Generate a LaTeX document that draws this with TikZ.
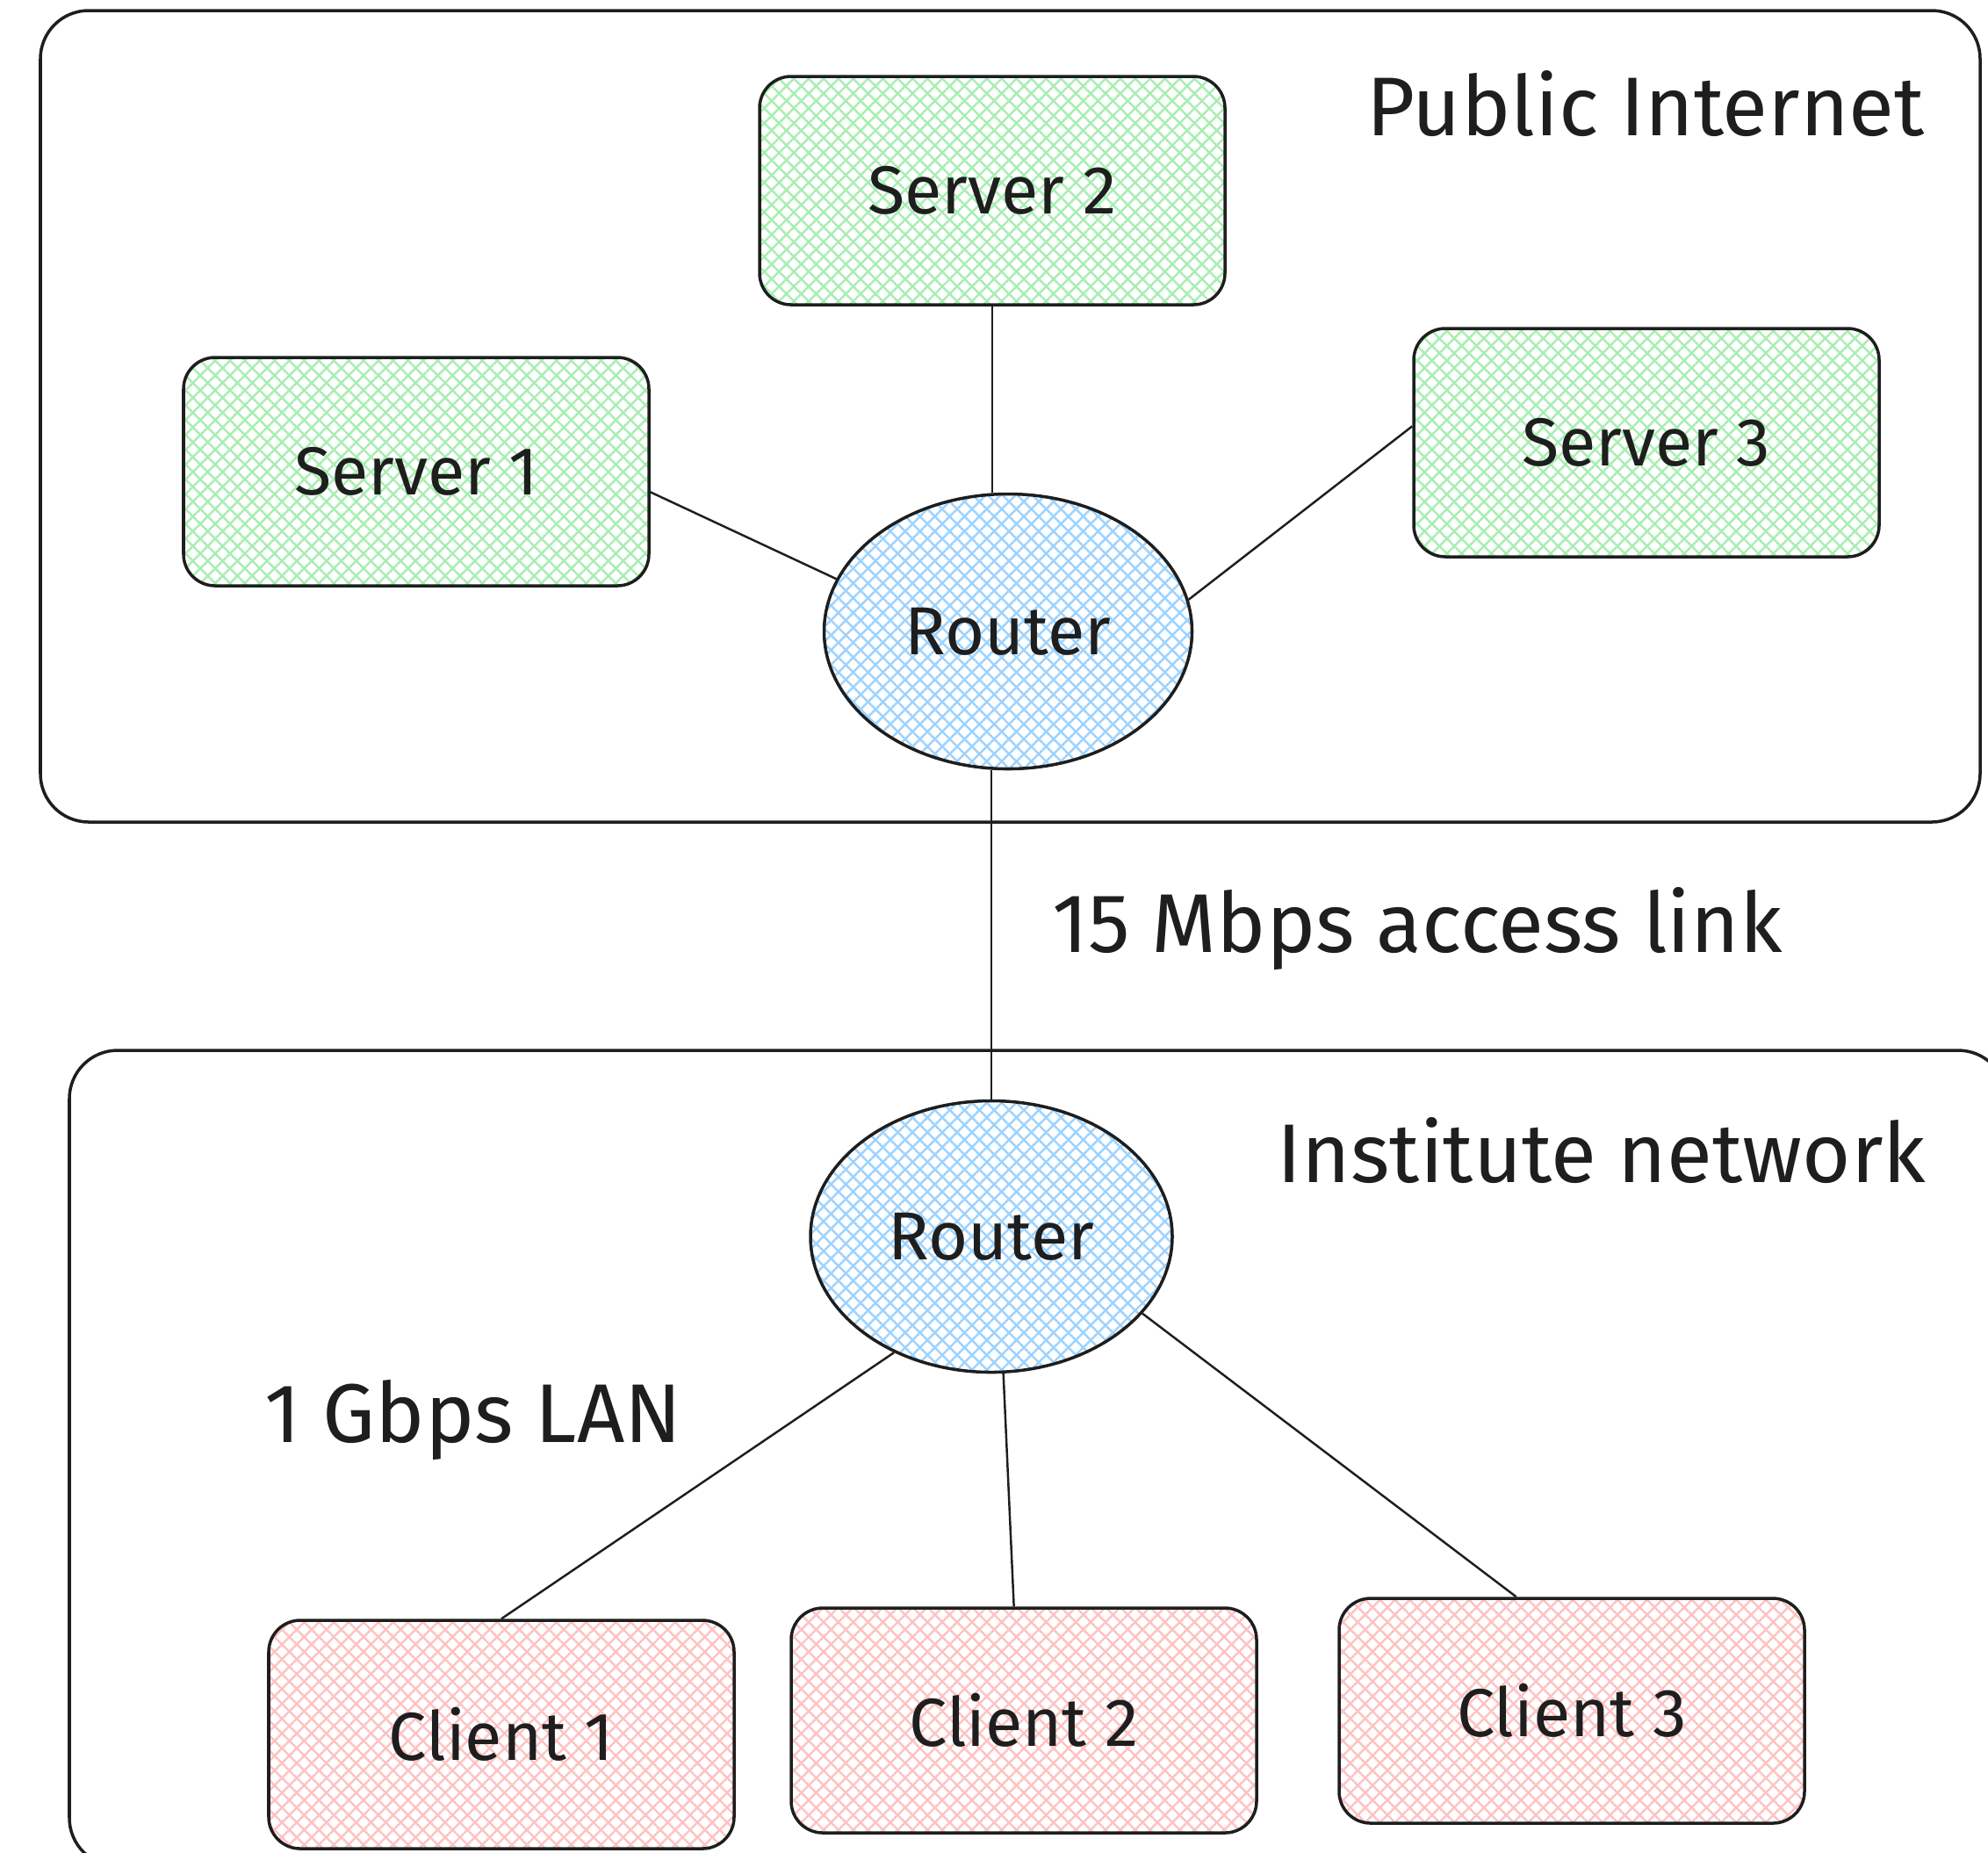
\documentclass[tikz,border=0pt]{standalone}
\usepackage{fontspec}
\setmainfont{Fira Sans}
\usepackage{tikz}
\usetikzlibrary{shapes.geometric, patterns.meta, positioning}
\definecolor{ink}{HTML}{1E1E1E}
\definecolor{srvgreen}{HTML}{A8EEB2}
\definecolor{rtrblue}{HTML}{9DD3FF}
\definecolor{clired}{HTML}{FFC2C2}
\tikzset{
    hatch/.style={preaction={pattern={Lines[angle=45,distance=3.4pt,line width=0.7pt]}, pattern color=#1},
                  pattern={Lines[angle=-45,distance=3.4pt,line width=0.7pt]}, pattern color=#1},
    box/.style={draw=ink, line width=1pt, rounded corners=0.36cm, minimum width=5.3cm,
                minimum height=2.6cm, text=ink, font=\fontsize{22}{26}\selectfont},
    srv/.style={box, hatch=srvgreen},
    cli/.style={box, hatch=clired},
    rtr/.style={ellipse, draw=ink, line width=1pt, hatch=rtrblue, minimum width=4.15cm,
                minimum height=3.1cm, inner sep=0pt, text=ink, font=\fontsize{22}{26}\selectfont},
    zone/.style={draw=ink, line width=1pt, rounded corners=0.55cm},
    lnk/.style={draw=ink, line width=0.7pt},
    lab/.style={text=ink, font=\fontsize{27}{32}\selectfont},
}

\begin{document}
\begin{tikzpicture}
    \useasboundingbox (0,0) rectangle (22.64,-21.09);
    % the two networks
    \draw[zone] (0.46,-0.12) rectangle (22.55,-9.36);
    \draw[zone] (0.79,-11.96) rectangle (22.85,-21.25);
    \node[lab] (pub) at (18.74,-1.18) {Public Internet};
    \node[lab] (inst) at (18.24,-13.10) {Institute network};
    \node[lab] (acc) at (16.14,-10.58) {15 Mbps access link};
    \node[lab] (lan) at (5.39,-16.17) {1 Gbps LAN};

    % public side
    \node[srv] (s2) at (11.30,-2.17) {Server 2};
    \node[srv] (s1) at (4.74,-5.37) {Server 1};
    \node[srv] (s3) at (18.75,-5.04) {Server 3};
    \node[rtr, minimum width=4.19cm, minimum height=3.13cm] (r1) at (11.48,-7.19) {Router};

    % institute side
    \node[rtr, minimum width=4.12cm, minimum height=3.09cm] (r2) at (11.29,-14.08) {Router};
    \node[cli] (c1) at (5.71,-19.75) {Client 1};
    \node[cli, minimum height=2.56cm] (c2) at (11.66,-19.59) {Client 2};
    \node[cli, minimum height=2.56cm] (c3) at (17.90,-19.48) {Client 3};

    \draw[lnk] (s2.south) -- (s2.south |- r1.north);
    \draw[lnk] (s1.-5) -- (r1.163);
    \draw[lnk] (s3.176) -- (r1.10);
    \draw[lnk] (r1.south -| r2.north) -- (r2.north);
    \draw[lnk] (r2.-130) -- (c1.north);
    \draw[lnk] (r2.-85) -- (c2.95);
    \draw[lnk] (r2.-27) -- (c3.116);
\end{tikzpicture}
\end{document}
